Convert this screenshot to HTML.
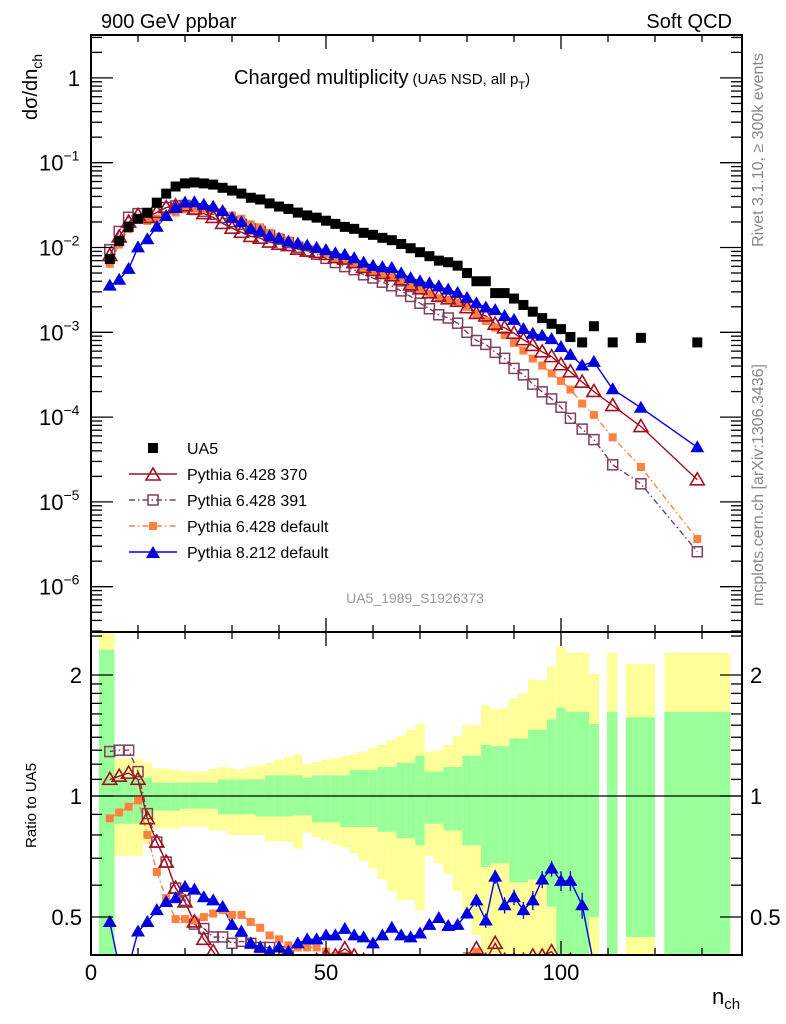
<!DOCTYPE html>
<html><head><meta charset="utf-8">
<style>
html,body{margin:0;padding:0;background:#fff;width:786px;height:1024px;overflow:hidden;}
svg{display:block;font-family:"Liberation Sans",sans-serif;}
</style></head>
<body>
<svg id="chart" width="786" height="1024" viewBox="0 0 786 1024" xmlns="http://www.w3.org/2000/svg">
<defs>
<clipPath id="clipTop"><rect x="91" y="35" width="651" height="597"/></clipPath>
<clipPath id="clipBot"><rect x="91" y="632" width="651" height="323"/></clipPath>
</defs>
<g id="bands" clip-path="url(#clipBot)"></g>
<g id="ratioMarks" clip-path="url(#clipBot)"></g>
<g id="topMarks" clip-path="url(#clipTop)"></g>
<g id="axes"></g>
<text x="101" y="28" font-size="20">900 GeV ppbar</text>
<text x="732" y="28" font-size="20" text-anchor="end">Soft QCD</text>
<text x="234" y="84" font-size="20">Charged multiplicity<tspan font-size="15" dx="4">(UA5 NSD, all p</tspan><tspan font-size="11" dy="5">T</tspan><tspan font-size="15" dy="-5">)</tspan></text>
<text transform="translate(37,120) rotate(-90)" font-size="20">dσ/dn<tspan font-size="14" dy="5">ch</tspan></text>
<text transform="translate(36,848) rotate(-90)" font-size="15">Ratio to UA5</text>
<text x="712" y="1004" font-size="22">n<tspan font-size="15" dy="5">ch</tspan></text>
<text transform="translate(763,150) rotate(-90)" font-size="16" fill="#888" text-anchor="middle">Rivet 3.1.10, ≥ 300k events</text>
<text transform="translate(763,485) rotate(-90)" font-size="16" fill="#888" text-anchor="middle">mcplots.cern.ch [arXiv:1306.3436]</text>
<text x="415" y="603" font-size="14" fill="#999" text-anchor="middle">UA5_1989_S1926373</text>
<g id="legend"></g>
</svg>
<script>
// ---- data ----
const nCenters=[4,6,8,10,12,14,16,18,20,22,24,26,28,30,32,34,36,38,40,42,44,46,48,50,52,54,56,58,60,62,64,66,68,70,72,74,76,78,80,82,84,86,88,90,92,94,96,98,100,102,104.5,107,111,117,129];
const binLo=[1.7,5,7,9,11,13,15,17,19,21,23,25,27,29,31,33,35,37,39,41,43,45,47,49,51,53,55,57,59,61,63,65,67,69,71,73,75,77,79,81,83,85,87,89,91,93,95,97,99,101,103,106,109.8,113.8,122];
const binHi=[5,7,9,11,13,15,17,19,21,23,25,27,29,31,33,35,37,39,41,43,45,47,49,51,53,55,57,59,61,63,65,67,69,71,73,75,77,79,81,83,85,87,89,91,93,95,97,99,101,103,106,108.1,112,120,136];
const ua5=[0.0073,0.0119,0.0175,0.0218,0.0257,0.0338,0.0432,0.0524,0.0570,0.0585,0.0570,0.0552,0.0506,0.0469,0.0432,0.0386,0.0368,0.0331,0.0304,0.0285,0.0258,0.0239,0.0225,0.0207,0.0190,0.0175,0.0166,0.0149,0.0141,0.0130,0.0122,0.0110,0.0098,0.0088,0.0079,0.0070,0.0067,0.0061,0.0050,0.0040,0.0040,0.0029,0.0029,0.0025,0.0021,0.00175,0.00147,0.00126,0.00109,0.00088,0.00076,0.00118,0.00076,0.00086,0.00076];
const r370=[1.10,1.12,1.14,1.10,0.878,0.768,0.685,0.59,0.545,0.486,0.44,0.41,0.38,0.36,0.35,0.35,0.35,0.35,0.36,0.37,0.37,0.38,0.39,0.40,0.40,0.417,0.40,0.39,0.38,0.38,0.38,0.38,0.37,0.37,0.37,0.38,0.37,0.38,0.39,0.417,0.39,0.43,0.39,0.39,0.39,0.40,0.40,0.41,0.38,0.39,0.34,0.17,0.18,0.09,0.024];
const r391=[1.29,1.30,1.30,1.15,0.904,0.768,0.685,0.59,0.55,0.48,0.468,0.446,0.446,0.43,0.435,0.43,0.42,0.42,0.41,0.40,0.39,0.38,0.37,0.36,0.35,0.34,0.33,0.32,0.31,0.30,0.29,0.28,0.27,0.25,0.24,0.23,0.22,0.21,0.20,0.20,0.18,0.20,0.17,0.15,0.15,0.14,0.135,0.13,0.12,0.11,0.095,0.046,0.036,0.019,0.0034];
const r6def=[0.88,0.91,0.94,0.975,0.80,0.647,0.557,0.494,0.494,0.49,0.50,0.51,0.52,0.506,0.506,0.486,0.47,0.45,0.44,0.425,0.42,0.42,0.42,0.41,0.40,0.40,0.39,0.38,0.38,0.37,0.37,0.36,0.36,0.365,0.36,0.36,0.36,0.37,0.40,0.41,0.34,0.39,0.32,0.30,0.29,0.28,0.275,0.26,0.245,0.24,0.19,0.09,0.076,0.03,0.0048];
const r8def=[0.486,0.35,0.32,0.46,0.486,0.52,0.545,0.557,0.594,0.585,0.56,0.55,0.53,0.478,0.46,0.43,0.42,0.41,0.42,0.41,0.43,0.44,0.44,0.45,0.45,0.467,0.45,0.445,0.43,0.45,0.47,0.45,0.445,0.455,0.478,0.497,0.475,0.478,0.51,0.55,0.49,0.63,0.535,0.56,0.52,0.55,0.62,0.66,0.615,0.615,0.535,0.38,0.28,0.15,0.058];
const r8err=[0.01,0.01,0.01,0.01,0.01,0.01,0.01,0.01,0.01,0.01,0.01,0.01,0.01,0.01,0.01,0.01,0.01,0.01,0.01,0.01,0.01,0.01,0.01,0.01,0.01,0.01,0.01,0.01,0.01,0.01,0.01,0.01,0.01,0.01,0.01,0.01,0.01,0.01,0.015,0.02,0.02,0.025,0.025,0.025,0.025,0.03,0.03,0.03,0.035,0.035,0.04,0.04,0.05,0.05,0.02];
const yellowUp=[2.6,1.24,1.24,1.24,1.21,1.17,1.17,1.16,1.15,1.15,1.15,1.17,1.18,1.17,1.165,1.18,1.19,1.21,1.23,1.25,1.27,1.20,1.215,1.23,1.24,1.26,1.27,1.29,1.32,1.34,1.38,1.41,1.46,1.51,1.29,1.30,1.34,1.41,1.50,1.50,1.68,1.64,1.66,1.75,1.80,1.95,1.94,2.10,2.35,2.27,2.27,2.01,2.27,2.13,2.27];
const greenUp=[2.31,1.11,1.11,1.11,1.11,1.08,1.08,1.08,1.08,1.08,1.08,1.08,1.10,1.10,1.10,1.10,1.10,1.125,1.125,1.125,1.125,1.11,1.125,1.125,1.125,1.125,1.16,1.16,1.16,1.18,1.18,1.21,1.21,1.26,1.15,1.15,1.18,1.18,1.26,1.26,1.34,1.33,1.33,1.39,1.39,1.46,1.46,1.55,1.66,1.62,1.62,1.51,1.62,1.57,1.62];
const greenLo=[0.4,0.853,0.853,0.853,0.90,0.92,0.92,0.92,0.93,0.93,0.93,0.93,0.90,0.90,0.90,0.90,0.89,0.89,0.89,0.89,0.895,0.895,0.86,0.86,0.86,0.837,0.837,0.837,0.837,0.815,0.815,0.785,0.785,0.754,0.853,0.853,0.82,0.82,0.754,0.754,0.666,0.68,0.68,0.61,0.61,0.62,0.62,0.53,0.4,0.4,0.4,0.5,0.4,0.446,0.4];
const yellowLo=[0.4,0.71,0.71,0.71,0.76,0.83,0.83,0.83,0.84,0.84,0.84,0.82,0.82,0.80,0.80,0.80,0.80,0.77,0.77,0.77,0.74,0.81,0.79,0.775,0.76,0.745,0.72,0.69,0.66,0.62,0.58,0.55,0.55,0.52,0.71,0.68,0.64,0.58,0.52,0.45,0.4,0.4,0.4,0.4,0.4,0.4,0.4,0.4,0.4,0.4,0.4,0.4,0.4,0.4,0.4];
const xTickMajor=[0,50,100];
const topDecades=[0,-1,-2,-3,-4,-5,-6];
const ratioTickLabels=["0.5","1","2"];
const ratioTickVals=[0.5,1,2];

// ---- scales ----
const NS="http://www.w3.org/2000/svg";
const X0=91,X1=742,TY0=35,TY1=632,BY0=632,BY1=955;
function sx(n){return 91+4.7*n;}
function sy(v){return 77.9-84.8*Math.log10(v);}
function sr(r){return 796-121*Math.log2(r);}
function srC(r){return Math.min(sr(r),BY1+12);}
function mk(tag,attrs,parent){const e=document.createElementNS(NS,tag);for(const k in attrs)e.setAttribute(k,attrs[k]);parent.appendChild(e);return e;}

const bands=document.getElementById('bands');
const ratioG=document.getElementById('ratioMarks');
const topG=document.getElementById('topMarks');
const axes=document.getElementById('axes');
const legend=document.getElementById('legend');

for(let i=0;i<nCenters.length;i++){
  const x=sx(binLo[i]),w=sx(binHi[i])-sx(binLo[i]);
  const yb=Math.min(sr(yellowLo[i]),BY1), gb=Math.min(sr(greenLo[i]),BY1);
  const yt=Math.max(sr(yellowUp[i]),BY0), gt=Math.max(sr(greenUp[i]),BY0);
  const y1=mk('rect',{x:x,y:yt,width:w,height:yb-yt,fill:'#ffff99'},bands);
  
  
  const g1=mk('rect',{x:x,y:gt,width:w,height:gb-gt,fill:'#99ff99'},bands);
  
  
}
const ref=mk('line',{x1:X0,x2:X1,y1:sr(1),y2:sr(1),stroke:'#000','stroke-width':1.3},ratioG);



function marker(g,type,x,y,color){
  let e;
  if(type==='sqF'){e=mk('rect',{x:x-5,y:y-5,width:10,height:10,fill:color},g);}
  else if(type==='sqS'){e=mk('rect',{x:x-4,y:y-4,width:8,height:8,fill:color},g);}
  else if(type==='sqO'){e=mk('rect',{x:x-5,y:y-5,width:10,height:10,fill:'none',stroke:color,'stroke-width':1.5},g);}
  else if(type==='triO'){e=mk('polygon',{points:`${x},${y-7} ${x-7},${y+5} ${x+7},${y+5}`,fill:'none',stroke:color,'stroke-width':1.6},g);}
  else {e=mk('polygon',{points:`${x},${y-7} ${x-7},${y+5} ${x+7},${y+5}`,fill:color},g);}
  return e;
}
const series=[
  {name:'pythia-6428-391',ratio:r391,color:'#7f3f5f',m:'sqO',dash:'6,3,1.5,3'},
  {name:'pythia-6428-default',ratio:r6def,color:'#ff8040',m:'sqS',dash:'6,3,1.5,3'},
  {name:'pythia-6428-370',ratio:r370,color:'#a01020',m:'triO',dash:''},
  {name:'pythia-8212-default',ratio:r8def,color:'#0000e0',m:'triF',dash:''}
];
series.forEach(s=>{
  let pTop='',pR='';
  for(let i=0;i<nCenters.length;i++){
    const x=sx(nCenters[i]);
    pTop+=(i?'L':'M')+x.toFixed(1)+','+sy(s.ratio[i]*ua5[i]).toFixed(1);
    pR+=(i?'L':'M')+x.toFixed(1)+','+srC(s.ratio[i]).toFixed(1);
  }
  const l1=mk('path',{d:pTop,fill:'none',stroke:s.color,'stroke-width':1.4,'stroke-dasharray':s.dash},topG);
  
  
  const l2=mk('path',{d:pR,fill:'none',stroke:s.color,'stroke-width':1.4,'stroke-dasharray':s.dash},ratioG);
  
  
});
series.forEach(s=>{
  for(let i=0;i<nCenters.length;i++){
    const x=sx(nCenters[i]);
    const m1=marker(topG,s.m,x,sy(s.ratio[i]*ua5[i]),s.color);
    
    
    const yr=sr(s.ratio[i]);
    if(yr>BY1+8) continue;
    if(s.m==='triF'&&nCenters[i]>=80){
      const eb=mk('line',{x1:x,x2:x,y1:sr(s.ratio[i]+r8err[i]),y2:Math.min(sr(s.ratio[i]-r8err[i]),BY1),stroke:s.color,'stroke-width':1.3},ratioG);
      
      
    }
    const m2=marker(ratioG,s.m,x,yr,s.color);
    
    
  }
});
for(let i=0;i<nCenters.length;i++){
  const m=marker(topG,'sqF',sx(nCenters[i]),sy(ua5[i]),'#000');
  
  
}

[[TY0,TY1],[BY0,BY1]].forEach(([a,b])=>{
  const f=mk('rect',{x:X0,y:a,width:X1-X0,height:b-a,fill:'none',stroke:'#000','stroke-width':2},axes);
  
  
});
for(let v=0;v<=138;v+=10){
  const maj=(v%50===0);const L=maj?14:7;const x=sx(v);
  [[TY0,1],[TY1,-1],[BY0,1],[BY1,-1]].forEach(([y,d])=>{
    const t=mk('line',{x1:x,x2:x,y1:y,y2:y+d*L,stroke:'#000','stroke-width':1.3},axes);
    
    
  });
}
xTickMajor.forEach(v=>{
  const t=mk('text',{x:sx(v),y:980,'font-size':22,'text-anchor':'middle'},axes);
  t.textContent=String(v);
  
  
});
for(let d=-7;d<=0;d++){
  for(let m=1;m<=9;m++){
    const v=m*Math.pow(10,d);const y=sy(v);
    if(y<TY0||y>TY1)continue;
    const L=(m===1)?22:11;
    [[X0,1],[X1,-1]].forEach(([x,s])=>{
      const t=mk('line',{x1:x,x2:x+s*L,y1:y,y2:y,stroke:'#000','stroke-width':1.3},axes);
      
      
    });
  }
}
topDecades.forEach(d=>{
  const y=sy(Math.pow(10,d));
  const t=mk('text',{x:d===0?80:62,y:y+8,'font-size':22,'text-anchor':'end'},axes);
  if(d===0){t.textContent='1';}
  else{t.textContent='10';const s=document.createElementNS(NS,'tspan');s.setAttribute('font-size','14');s.setAttribute('dy','-10');s.textContent='−'+(-d);t.appendChild(s);t.setAttribute('text-anchor','start');t.setAttribute('x','39');}
  
  
});
[0.4,0.5,0.6,0.7,0.8,0.9,1,1.1,1.2,1.3,1.4,1.5,1.6,1.7,1.8,1.9,2,2.5].forEach(v=>{
  const y=sr(v);if(y<BY0||y>BY1)return;
  const L=(v===0.5||v===1||v===2)?22:11;
  [[X0,1],[X1,-1]].forEach(([x,s])=>{
    const t=mk('line',{x1:x,x2:x+s*L,y1:y,y2:y,stroke:'#000','stroke-width':1.3},axes);
    
    
  });
});
ratioTickVals.forEach((v,i)=>{
  const y=sr(v)+8;
  const a=mk('text',{x:82,y:y,'font-size':22,'text-anchor':'end'},axes);
  a.textContent=ratioTickLabels[i];
  
  
  const b=mk('text',{x:750,y:y,'font-size':22},axes);
  b.textContent=ratioTickLabels[i];
  
  
});

const legItems=[
  {label:'UA5',m:'sqF',color:'#000',dash:null},
  {label:'Pythia 6.428 370',m:'triO',color:'#a01020',dash:''},
  {label:'Pythia 6.428 391',m:'sqO',color:'#7f3f5f',dash:'6,3,1.5,3'},
  {label:'Pythia 6.428 default',m:'sqS',color:'#ff8040',dash:'6,3,1.5,3'},
  {label:'Pythia 8.212 default',m:'triF',color:'#0000e0',dash:''}
];
const legY=[448,474,500,526,552];
legItems.forEach((it,i)=>{
  const y=legY[i];
  if(it.dash!==null){
    const l=mk('line',{x1:129,x2:177,y1:y,y2:y,stroke:it.color,'stroke-width':1.4,'stroke-dasharray':it.dash},legend);
    
    
  }
  const m=marker(legend,it.m,153,y+(it.m.startsWith('tri')?1:0),it.color);
  
  
  const t=mk('text',{x:187,y:y+6,'font-size':16},legend);
  t.textContent=it.label;
  
  
});
</script>
</body></html>
